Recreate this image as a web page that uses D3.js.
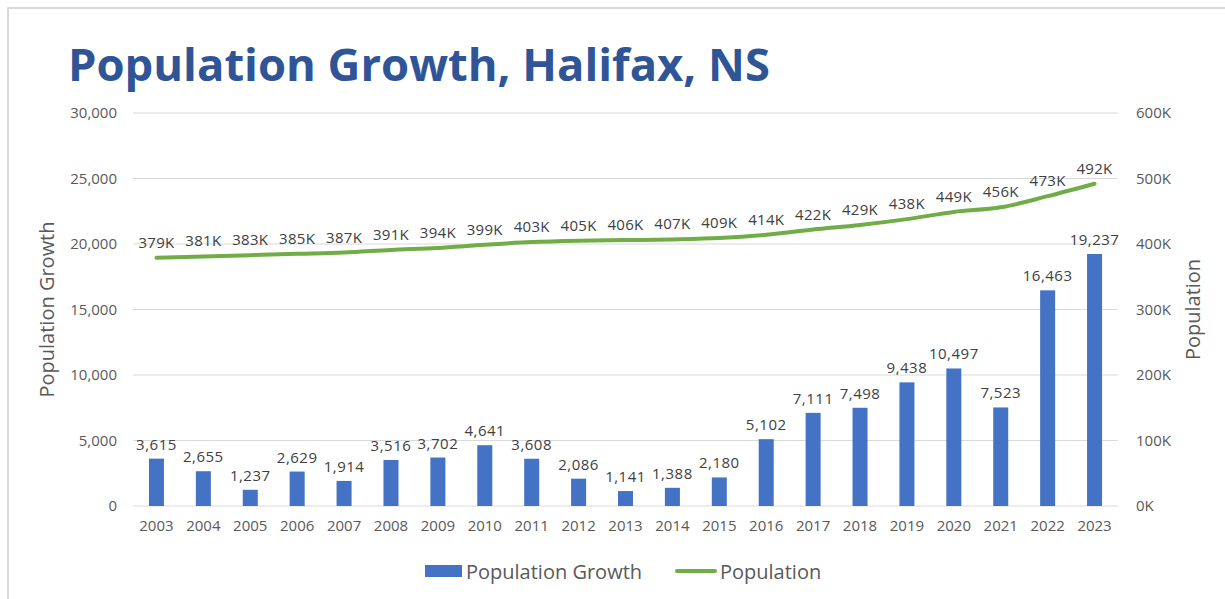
<!DOCTYPE html>
<html>
<head>
<meta charset="utf-8">
<script src="https://cdn.jsdelivr.net/npm/d3@7"></script>
<style>
  body { margin: 0; background: #fff; }
  text { font-family: "Open Sans", "Noto Sans", sans-serif; }
</style>
</head>
<body>
<div id="chart"></div>
<script>
// data
var years = ["2003","2004","2005","2006","2007","2008","2009","2010","2011","2012","2013",
             "2014","2015","2016","2017","2018","2019","2020","2021","2022","2023"];
var growth = [3615, 2655, 1237, 2629, 1914, 3516, 3702, 4641, 3608, 2086, 1141,
              1388, 2180, 5102, 7111, 7498, 9438, 10497, 7523, 16463, 19237];
var population = [379, 381, 383, 385, 387, 391, 394, 399, 403, 405, 406,
                  407, 409, 414, 422, 429, 438, 449, 456, 473, 492]; // thousands
var leftTicks = [0, 5000, 10000, 15000, 20000, 25000, 30000];
var rightTicks = [0, 100, 200, 300, 400, 500, 600];

var width = 1225, height = 599;
var margin = {top: 113, right: 107, bottom: 93, left: 133};
var textGray = "#595959";

var svg = d3.select("#chart").append("svg")
    .attr("width", width)
    .attr("height", height);

// frame
svg.append("rect")
    .attr("x", 8).attr("y", 8)
    .attr("width", width).attr("height", height)
    .attr("fill", "none")
    .attr("stroke", "#d9d9d9")
    .attr("stroke-width", 2);

// title, fitted to the width it takes in the picture
var title = svg.append("text")
    .attr("x", 68).attr("y", 81)
    .attr("fill", "#2F5597")
    .attr("font-weight", "bold")
    .attr("font-size", 48)
    .text("Population Growth, Halifax, NS");
var tw = title.node().getComputedTextLength();
title.attr("font-size", 48 * 702 / tw);

var x = d3.scaleBand()
    .domain(years)
    .range([margin.left, width - margin.right])
    .paddingInner(0.68)
    .paddingOuter(0.34);

var yL = d3.scaleLinear().domain([0, 30000]).range([height - margin.bottom, margin.top]);
var yR = d3.scaleLinear().domain([0, 600]).range([height - margin.bottom, margin.top]);

// gridlines
svg.append("g")
    .selectAll("line")
    .data(leftTicks)
    .enter()
    .append("line")
    .attr("x1", margin.left)
    .attr("x2", width - margin.right)
    .attr("y1", d => yL(d))
    .attr("y2", d => yL(d))
    .attr("stroke", "#d9d9d9")
    .attr("stroke-width", 1);

function styleTicks(g) {
    g.select(".domain").remove();
    g.selectAll("text")
        .attr("fill", textGray)
        .attr("font-size", 15)
        .attr("font-family", null);
}

// left axis
svg.append("g")
    .attr("transform", "translate(" + (margin.left - 16) + ",0)")
    .call(d3.axisLeft(yL).tickValues(leftTicks).tickFormat(d3.format(",")).tickSize(0).tickPadding(0))
    .call(styleTicks);

// right axis
svg.append("g")
    .attr("transform", "translate(" + (width - margin.right + 18) + ",0)")
    .call(d3.axisRight(yR).tickValues(rightTicks).tickFormat(d => d + "K").tickSize(0).tickPadding(0))
    .call(styleTicks);

// x axis labels
svg.append("g")
    .attr("transform", "translate(0," + (height - margin.bottom) + ")")
    .call(d3.axisBottom(x).tickSize(0).tickPadding(14))
    .call(styleTicks);

// axis titles
var midY = margin.top + (height - margin.bottom - margin.top) / 2;
svg.append("text")
    .attr("transform", "translate(54," + midY + ") rotate(-90)")
    .attr("text-anchor", "middle")
    .attr("fill", textGray)
    .attr("font-size", 20)
    .text("Population Growth");

svg.append("text")
    .attr("transform", "translate(1200," + midY + ") rotate(-90)")
    .attr("text-anchor", "middle")
    .attr("fill", textGray)
    .attr("font-size", 20)
    .text("Population");

// bars
svg.append("g")
    .selectAll("rect")
    .data(growth)
    .enter()
    .append("rect")
    .attr("x", (d, i) => x(years[i]))
    .attr("width", x.bandwidth())
    .attr("y", d => yL(d))
    .attr("height", d => yL(0) - yL(d))
    .attr("fill", "#4472C4");

// bar labels
svg.append("g")
    .selectAll("text")
    .data(growth)
    .enter()
    .append("text")
    .attr("x", (d, i) => x(years[i]) + x.bandwidth() / 2)
    .attr("y", d => yL(d) - 9)
    .attr("text-anchor", "middle")
    .attr("fill", "#404040")
    .attr("font-size", 15)
    .attr("letter-spacing", 0.5)
    .text(d => d3.format(",")(d));

// population line
var line = d3.line()
    .x((d, i) => x(years[i]) + x.bandwidth() / 2)
    .y(d => yR(d))
    .curve(d3.curveMonotoneX);

svg.append("path")
    .datum(population)
    .attr("d", line)
    .attr("fill", "none")
    .attr("stroke", "#70AD47")
    .attr("stroke-width", 4)
    .attr("stroke-linecap", "round");

// line labels
svg.append("g")
    .selectAll("text")
    .data(population)
    .enter()
    .append("text")
    .attr("x", (d, i) => x(years[i]) + x.bandwidth() / 2)
    .attr("y", d => yR(d) - 10)
    .attr("text-anchor", "middle")
    .attr("fill", "#404040")
    .attr("font-size", 15)
    .attr("letter-spacing", 0.3)
    .text(d => d + "K");

// legend
var legend = svg.append("g");
legend.append("rect")
    .attr("x", 425).attr("y", 565)
    .attr("width", 37).attr("height", 12)
    .attr("fill", "#4472C4");
legend.append("text")
    .attr("x", 466).attr("y", 579)
    .attr("fill", textGray)
    .attr("font-size", 20)
    .text("Population Growth");
legend.append("line")
    .attr("x1", 677).attr("x2", 715)
    .attr("y1", 571).attr("y2", 571)
    .attr("stroke", "#70AD47")
    .attr("stroke-width", 4)
    .attr("stroke-linecap", "round");
legend.append("text")
    .attr("x", 720).attr("y", 579)
    .attr("fill", textGray)
    .attr("font-size", 20)
    .text("Population");
</script>
</body>
</html>
